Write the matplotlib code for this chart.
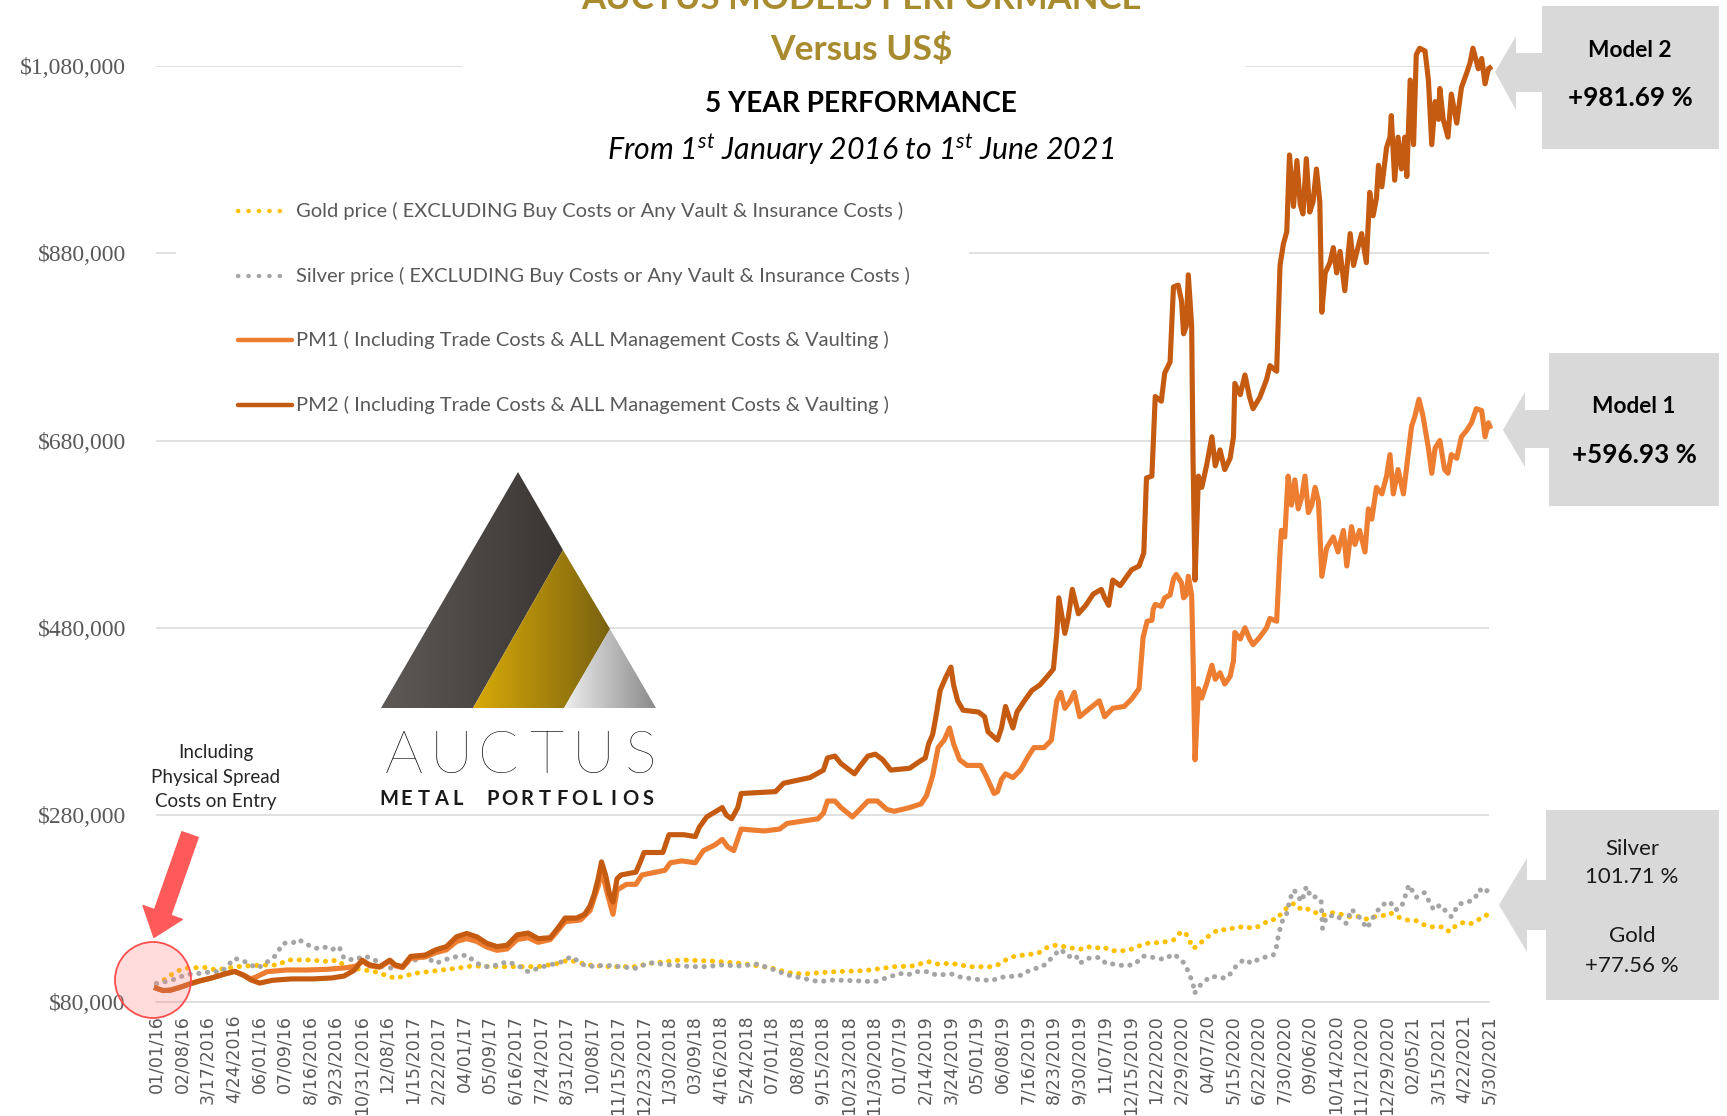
import matplotlib
matplotlib.use("Agg")
import matplotlib.pyplot as plt
import matplotlib.patches as mpatches
import matplotlib.transforms as mtransforms
from matplotlib.lines import Line2D
from matplotlib.colors import LinearSegmentedColormap
import numpy as np

W, H = 1727, 1116

# x = days since 1 Jan 2016, values in US$ thousands
tick_labels = ["01/01/16", "02/08/16", "3/17/2016", "4/24/2016", "06/01/16", "07/09/16",
               "8/16/2016", "9/23/2016", "10/31/2016", "12/08/16", "1/15/2017", "2/22/2017",
               "04/01/17", "05/09/17", "6/16/2017", "7/24/2017", "8/31/2017", "10/08/17",
               "11/15/2017", "12/23/2017", "1/30/2018", "03/09/18", "4/16/2018", "5/24/2018",
               "07/01/18", "08/08/18", "9/15/2018", "10/23/2018", "11/30/2018", "01/07/19",
               "2/14/2019", "3/24/2019", "05/01/19", "06/08/19", "7/16/2019", "8/23/2019",
               "9/30/2019", "11/07/19", "12/15/2019", "1/22/2020", "2/29/2020", "04/07/20",
               "5/15/2020", "6/22/2020", "7/30/2020", "09/06/20", "10/14/2020", "11/21/2020",
               "12/29/2020", "02/05/21", "3/15/2021", "4/22/2021", "5/30/2021"]
tick_step = 38
y_ticks = [80, 280, 480, 680, 880, 1080]

pm2_days = [0, 10, 21, 35, 51, 65, 82, 100, 116, 129, 140, 153, 172, 200, 233, 260, 278, 293, 305,
            316, 331, 346, 354, 365, 377, 399, 414, 430, 445, 460, 475, 490, 505, 520, 535, 551,
            566, 584, 595, 606, 623, 635, 643, 649, 655, 660, 666, 672, 677, 683, 689, 711, 717,
            723, 751, 760, 782, 799, 805, 816, 839, 845, 853, 862, 867, 918, 930, 969, 989, 995,
            1006, 1015, 1035, 1043, 1055, 1066, 1077, 1089, 1117, 1131, 1140, 1145, 1151, 1157,
            1162, 1171, 1178, 1182, 1188, 1196, 1219, 1228, 1233, 1247, 1253, 1259, 1264, 1270,
            1276, 1287, 1298, 1310, 1321, 1330, 1335, 1338, 1347, 1352, 1358, 1367, 1378, 1389,
            1401, 1406, 1412, 1418, 1429, 1446, 1457, 1464, 1468, 1476, 1478, 1481, 1490, 1495,
            1503, 1508, 1515, 1520, 1523, 1527, 1530, 1535, 1537, 1540, 1545, 1550, 1557, 1565,
            1570, 1577, 1584, 1592, 1597, 1599, 1607, 1614, 1621, 1626, 1636, 1646, 1651, 1661,
            1666, 1671, 1676, 1680, 1686, 1691, 1696, 1700, 1705, 1710, 1715, 1720, 1725, 1728,
            1733, 1740, 1745, 1750, 1755, 1762, 1770, 1775, 1780, 1787, 1794, 1799, 1804, 1809,
            1812, 1817, 1824, 1829, 1831, 1836, 1841, 1846, 1851, 1854, 1859, 1864, 1868, 1873,
            1881, 1886, 1891, 1896, 1901, 1903, 1908, 1915, 1920, 1928, 1935, 1943, 1948, 1952,
            1960, 1965, 1970, 1975, 1977]
pm2_vals = [95, 92.5, 93, 96, 100, 103, 106, 110, 113, 109, 104, 100.5, 103.5, 105, 105, 106, 108,
            114, 125, 120, 118, 125, 120, 118, 129, 130.5, 136, 139.5, 150, 153.5, 150, 143,
            139.5, 141, 152, 154, 148, 149, 159, 170, 170, 174, 183, 195, 212, 230, 216, 195, 187,
            212, 216, 219, 229, 240, 240, 259, 259, 257, 267, 278, 288, 280, 276, 288, 303, 305,
            314, 320, 328, 341, 343, 335, 324, 332, 343, 345, 339, 328, 330, 337, 341, 356, 366,
            390, 413, 428, 438, 419, 402, 392, 390, 385, 369, 360, 373, 396, 385, 373, 390, 402,
            413, 419, 428, 436, 474, 512, 474, 491, 521, 495, 504, 516, 521, 512, 504, 531, 525,
            542, 546, 560, 640, 642, 676, 727, 722, 752, 764, 844, 846, 829, 794, 802, 857, 802,
            661, 531, 642, 630, 653, 684, 653, 670, 649, 661, 684, 741, 729, 750, 726, 714, 726,
            745, 760, 754, 867, 890, 903, 985, 930, 979, 932, 922, 981, 924, 935, 970, 935, 817,
            859, 870, 886, 859, 882, 840, 901, 867, 882, 901, 870, 945, 920, 939, 974, 951, 993,
            1004, 1027, 958, 1004, 970, 1004, 962, 1065, 996, 1092, 1099, 1096, 1065, 996, 1042,
            1023, 1056, 1023, 1004, 1050, 1019, 1057, 1073, 1084, 1099, 1077, 1088, 1061, 1077,
            1078]

pm1_days = [0, 10, 21, 35, 51, 65, 82, 100, 116, 129, 140, 149, 164, 193, 223, 252, 272, 287, 297,
            305, 316, 331, 346, 354, 365, 377, 399, 414, 430, 445, 460, 475, 490, 505, 520, 535,
            551, 566, 584, 606, 629, 643, 655, 660, 669, 677, 683, 697, 711, 720, 740, 754, 762,
            779, 799, 811, 828, 839, 847, 856, 867, 901, 924, 935, 981, 989, 995, 1006, 1015,
            1032, 1043, 1055, 1069, 1083, 1094, 1117, 1134, 1142, 1151, 1159, 1168, 1176, 1182,
            1191, 1202, 1222, 1230, 1242, 1247, 1253, 1259, 1270, 1281, 1293, 1301, 1316, 1327,
            1335, 1341, 1347, 1355, 1361, 1369, 1384, 1398, 1406, 1418, 1435, 1446, 1457, 1463,
            1469, 1476, 1478, 1481, 1490, 1495, 1503, 1508, 1512, 1520, 1523, 1527, 1530, 1535,
            1537, 1540, 1545, 1550, 1557, 1565, 1570, 1577, 1584, 1592, 1597, 1599, 1607, 1614,
            1621, 1626, 1636, 1646, 1651, 1661, 1666, 1668, 1673, 1678, 1683, 1688, 1693, 1698,
            1703, 1708, 1713, 1718, 1723, 1728, 1735, 1745, 1752, 1760, 1765, 1772, 1777, 1784,
            1792, 1797, 1802, 1809, 1817, 1824, 1829, 1834, 1841, 1849, 1854, 1861, 1866, 1872,
            1878, 1886, 1891, 1896, 1903, 1910, 1915, 1920, 1928, 1935, 1943, 1950, 1957, 1965,
            1970, 1975, 1977]
pm1_vals = [95, 92.5, 93, 96, 100, 103, 106, 110, 113, 109, 105, 107.4, 112.7, 114.5, 114.5, 115.2,
            116.3, 117.4, 119, 124, 119, 117.5, 124, 119, 117, 127, 128.5, 133, 136, 145, 148,
            145, 139, 135.5, 137, 147, 149, 144, 147, 166, 168, 178, 204, 221, 195, 174, 200, 206,
            206, 216, 219, 221, 229, 231, 229, 242, 248, 254, 246, 242, 265, 263, 265, 271, 276,
            282, 295, 295, 288, 278, 286, 295, 295, 286, 284, 288, 292, 301, 322, 352, 360, 373,
            356, 339, 333, 333, 322, 303, 305, 318, 324, 320, 328, 343, 352, 352, 360, 402, 411,
            394, 402, 411, 385, 394, 402, 385, 394, 396, 404, 415, 470, 487, 488, 500, 505, 503,
            512, 515, 532, 537, 528, 512, 515, 535, 515, 450, 339, 415, 405, 420, 440, 425, 432,
            420, 428, 445, 475, 468, 480, 468, 462, 470, 480, 490, 487, 561, 584, 577, 642, 611,
            638, 607, 619, 642, 603, 611, 630, 615, 535, 565, 577, 561, 584, 546, 588, 569, 584,
            561, 607, 596, 630, 623, 642, 665, 623, 649, 623, 653, 695, 706, 724, 706, 672, 645,
            672, 680, 649, 645, 665, 661, 684, 691, 699, 714, 712, 684, 699, 695]

gold_days = [0, 14, 25, 40, 70, 89, 119, 157, 180, 195, 229, 256, 267, 278, 293, 324, 354, 384,
             415, 445, 468, 505, 535, 566, 596, 611, 641, 672, 710, 732, 778, 823, 868, 914, 936,
             959, 1004, 1050, 1095, 1120, 1145, 1156, 1179, 1193, 1207, 1236, 1247, 1259, 1273,
             1290, 1307, 1321, 1335, 1346, 1369, 1381, 1392, 1403, 1415, 1440, 1454, 1468, 1483,
             1497, 1508, 1517, 1525, 1531, 1537, 1542, 1554, 1565, 1576, 1588, 1599, 1613, 1627,
             1639, 1650, 1661, 1670, 1678, 1687, 1695, 1704, 1712, 1724, 1732, 1744, 1755, 1769,
             1780, 1792, 1806, 1817, 1829, 1840, 1854, 1868, 1883, 1897, 1908, 1917, 1925, 1937,
             1948, 1959, 1971, 1977]
gold_vals = [100, 105, 111, 116.3, 117.4, 114.5, 118.1, 119.8, 119.8, 125.2, 125.2, 123.4, 125.2,
             119.8, 116.3, 112.7, 105.6, 111, 113.8, 116.3, 118.8, 118.1, 118.1, 118.1, 121.6,
             125.2, 119.8, 118.1, 118.1, 121.6, 125.2, 124.1, 121.6, 116.3, 111.7, 110.2, 112.7,
             113.8, 118.1, 118.7, 123.4, 120.9, 121.6, 119.8, 118, 118, 119.8, 125.1, 129.4, 130.8,
             132.3, 138.7, 141.2, 139.4, 136.5, 139.4, 137.6, 139.4, 135.1, 135.1, 139.4, 142.9,
             143.7, 144.7, 146.5, 153.6, 155.4, 147.2, 137.6, 139.4, 147.2, 153.6, 157.9, 157.2,
             160, 160.7, 159, 162.5, 167.9, 168.6, 176.8, 182.1, 185.7, 180.3, 181.4, 176.8, 175,
             173.2, 175.7, 174.3, 171.4, 172.1, 168.6, 171.4, 172.1, 175.7, 171.4, 167.9, 167.1,
             161.5, 160, 160.7, 155.4, 160.7, 165, 163.6, 167.9, 172.1, 177.6]

silver_days = [0, 21, 36, 51, 66, 82, 97, 116, 131, 150, 165, 176, 188, 203, 210, 225, 237, 248,
               259, 271, 278, 293, 309, 324, 335, 350, 369, 384, 399, 414, 430, 445, 460, 475, 490,
               505, 520, 535, 551, 566, 581, 596, 615, 634, 649, 664, 687, 710, 732, 762, 793, 815,
               838, 868, 891, 914, 936, 959, 982, 1004, 1035, 1065, 1088, 1102, 1114, 1125, 1145,
               1156, 1179, 1190, 1205, 1216, 1239, 1250, 1273, 1284, 1295, 1310, 1321, 1329, 1341,
               1352, 1363, 1369, 1381, 1398, 1409, 1420, 1437, 1451, 1463, 1477, 1494, 1508, 1517,
               1525, 1531, 1537, 1539, 1548, 1562, 1573, 1585, 1593, 1602, 1613, 1624, 1636, 1647,
               1656, 1661, 1664, 1670, 1676, 1681, 1687, 1693, 1698, 1705, 1712, 1721, 1727, 1729,
               1735, 1749, 1764, 1772, 1783, 1795, 1806, 1817, 1829, 1837, 1846, 1857, 1868, 1880,
               1894, 1903, 1920, 1931, 1942, 1954, 1962, 1968, 1977]
silver_vals = [100, 103.1, 107.4, 110.2, 111, 112.7, 112.7, 127, 123.4, 116.3, 123.4, 129.5, 143,
               143.7, 147.3, 141.2, 137.6, 139.4, 135.9, 139.4, 127, 125.2, 129.5, 125.2, 118.1,
               116.3, 121.6, 125.2, 128.8, 121.6, 125.9, 128.8, 130.5, 121.6, 118.1, 119.8, 123.4,
               119.8, 112.7, 116.3, 119.8, 121.6, 128.8, 119.8, 118.1, 119.8, 118.1, 116.3, 122.3,
               119.8, 118.1, 118.1, 119.8, 118.8, 120.9, 115.2, 109.2, 105.6, 102, 103.8, 103.1,
               102, 107.4, 110.9, 109.1, 112.7, 112.7, 109.1, 110.2, 107.3, 105.6, 104.5, 103.1,
               106.6, 108, 109.1, 114.5, 117.3, 121.6, 129.4, 136.5, 128.7, 130.5, 121.6, 126.9,
               128, 120.9, 120.9, 118.7, 120.9, 129.4, 128, 125.8, 131.5, 126.9, 120.9, 110.9,
               100.2, 89.5, 98.4, 107.3, 107.3, 105.6, 110.9, 119.8, 125.8, 121.6, 126.9, 128.7,
               130.5, 140.1, 153.6, 167.9, 175, 191, 199.9, 192.8, 187.5, 203.5, 192.1, 192.8,
               187.5, 159, 171.4, 173.2, 164.3, 179.3, 171.4, 159, 173.2, 183.9, 187.5, 178.6,
               181.4, 205.3, 192.1, 197.1, 178.6, 183.9, 171.4, 185, 186.4, 190, 200.6, 196.4,
               201.7]

legend_labels = ["Gold price ( EXCLUDING Buy Costs or Any Vault & Insurance Costs )",
                 "Silver price ( EXCLUDING Buy Costs or Any Vault & Insurance Costs )",
                 "PM1 ( Including Trade Costs & ALL Management Costs & Vaulting )",
                 "PM2 ( Including Trade Costs & ALL Management Costs & Vaulting )"]

GOLD = "#FFC000"
SILVER = "#A5A5A5"
PM1 = "#ED7D31"
PM2 = "#C55A11"
TITLE = "#A88B2E"
BOX = "#D9D9D9"

plt.rcParams["font.family"] = ["Lato", "DejaVu Sans"]
plt.rcParams["mathtext.fontset"] = "custom"
plt.rcParams["mathtext.rm"] = "Lato:italic"
plt.rcParams["mathtext.it"] = "Lato:italic"

fig = plt.figure(figsize=(W / 100, H / 100), dpi=100)
# pixel coordinates with the origin at the top left
PX = mtransforms.Affine2D().scale(1, -1).translate(0, H)

ax = fig.add_axes([156.4 / W, 1 - 1002.3 / H, (1489.1 - 156.4) / W, (1002.3 - 66) / H])
ax.set_xlim(0, 1976)
ax.set_ylim(80, 1080)
ax.set_yticks(y_ticks)
ax.set_yticklabels([f"${v * 1000:,.0f}" for v in y_ticks], fontfamily="Liberation Serif",
                   fontsize=17, color="#595959")
ax.set_xticks(np.arange(len(tick_labels)) * tick_step)
ax.set_xticklabels(tick_labels, rotation=90, fontsize=12.5, color="#595959", fontfamily="DejaVu Sans")
ax.tick_params(axis="y", length=0, pad=22)
ax.tick_params(axis="x", length=0, pad=9)
ax.grid(axis="y", color=BOX, lw=1.1)
ax.set_axisbelow(True)
for s in ["top", "right", "left"]:
    ax.spines[s].set_visible(False)
ax.spines["bottom"].set_color(BOX)
ax.spines["bottom"].set_linewidth(1.1)

# white areas behind the title and legend hide the grid there
for x0, y0, w, h in [(463, 0, 782, 182), (176, 182, 793, 246)]:
    ax.add_patch(mpatches.Rectangle((x0, y0), w, h, transform=PX, fc="white", ec="none",
                                    zorder=1, clip_on=False))

dots = dict(lw=3.6, linestyle=(0, (0.05, 1.7)), dash_capstyle="round", clip_on=False, zorder=3)
ax.plot(gold_days, gold_vals, color=GOLD, **dots)
ax.plot(silver_days, silver_vals, color=SILVER, **dots)
ax.plot(pm1_days, pm1_vals, color=PM1, lw=3.7, clip_on=False, zorder=4, solid_joinstyle="round")
ax.plot(pm2_days, pm2_vals, color=PM2, lw=3.7, clip_on=False, zorder=5, solid_joinstyle="round")

# legend
leg_y = [211, 276, 340, 405]
leg_style = [(GOLD, True), (SILVER, True), (PM1, False), (PM2, False)]
for label, (color, dotted), y in zip(legend_labels, leg_style, leg_y):
    if dotted:
        fig.add_artist(Line2D([238, 283], [y, y], transform=PX, color=color, lw=3.2,
                              linestyle=(0, (0.05, 2.3)), dash_capstyle="round"))
    else:
        fig.add_artist(Line2D([238, 292], [y, y], transform=PX, color=color, lw=3.2,
                              solid_capstyle="round"))
    fig.text(296, y, label, transform=PX, va="center", ha="left", fontsize=14.5, color="#595959")

# titles
fig.text(861, 9, "AUCTUS MODELS PERFORMANCE", transform=PX, ha="center", va="baseline",
         fontsize=25, fontweight="bold", color=TITLE)
fig.text(861, 60, "Versus US$", transform=PX, ha="center", va="baseline",
         fontsize=25.5, fontweight="bold", color=TITLE)
fig.text(861, 112, "5 YEAR PERFORMANCE", transform=PX, ha="center", va="baseline",
         fontsize=20.2, fontweight="bold", color="black")
fig.text(861, 160, r"From 1$^{st}$ January 2016 to 1$^{st}$ June 2021", transform=PX,
         ha="center", va="baseline", fontsize=21.8, fontstyle="italic", color="black")

# logo
lax = fig.add_axes([381 / W, 1 - 708 / H, (656 - 381) / W, (708 - 472) / H])
lax.set_xlim(381, 656)
lax.set_ylim(708, 472)
lax.axis("off")
stripes = [
    ([(381, 708), (518, 472), (563, 550), (473, 708)], ["#5d5a58", "#3a3532"]),
    ([(473, 708), (563, 550), (610, 629), (564, 708)], ["#d8aa08", "#7a6210"]),
    ([(564, 708), (610, 629), (656, 708)], ["#eeeeee", "#8a8a8a"]),
]
grad = np.linspace(0, 1, 256).reshape(1, -1)
for pts, cols in stripes:
    poly = mpatches.Polygon(pts, closed=True, fc="none", ec="none")
    lax.add_patch(poly)
    xs = [p[0] for p in pts]
    ys = [p[1] for p in pts]
    im = lax.imshow(grad, cmap=LinearSegmentedColormap.from_list("g", cols), aspect="auto",
                    extent=(min(xs), max(xs), max(ys), min(ys)))
    im.set_clip_path(poly)

for letter, x in zip("AUCTUS", np.linspace(404, 641, 6)):
    fig.text(x, 773, letter, transform=PX, ha="center", va="baseline", fontsize=43,
             fontweight="light", color="black")
for letter, x in zip("METAL PORTFOLIOS", np.linspace(389, 648, 16)):
    fig.text(x, 805, letter, transform=PX, ha="center", va="baseline", fontsize=14.5,
             fontweight="bold", color="#1a1a1a")

# entry cost note
for line, y in zip(["Including", "Physical Spread", "Costs on Entry"], [758, 783, 807]):
    fig.text(216, y, line, transform=PX, ha="center", va="baseline", fontsize=13.5, color="#262626")
fig.add_artist(mpatches.FancyArrowPatch((191, 832), (153, 940), transform=PX,
                                        arrowstyle="simple,head_length=0.95,head_width=1.5,tail_width=0.62",
                                        mutation_scale=20, color="#FF5A5A", zorder=6))
fig.add_artist(mpatches.Circle((153, 980), 38, transform=PX, fc=(1, 0.55, 0.55, 0.3),
                               ec="#FF4D4D", lw=1.3, zorder=6))

# call-out boxes on the right
def callout(tip_x, tip_y, head_x, head_top, head_bot, shaft_top, shaft_bot, bx0, bx1, by0, by1):
    pts = [(tip_x, tip_y), (head_x, head_top), (head_x, shaft_top), (bx0, shaft_top), (bx0, by0),
           (bx1, by0), (bx1, by1), (bx0, by1), (bx0, shaft_bot), (head_x, shaft_bot),
           (head_x, head_bot)]
    fig.add_artist(mpatches.Polygon(pts, closed=True, transform=PX, fc=BOX, ec="none", zorder=2))

callout(1495, 72, 1516, 36, 110, 53, 92, 1542, 1719, 6, 149)
callout(1503, 430, 1525, 392, 467, 410, 448, 1549, 1719, 353, 506)
callout(1499, 905, 1527, 858, 952, 880, 930, 1546, 1719, 810, 1000)

fig.text(1630, 57, "Model 2", transform=PX, ha="center", va="baseline", fontsize=16.3, fontweight="bold")
fig.text(1630, 106, "+981.69 %", transform=PX, ha="center", va="baseline", fontsize=18.7, fontweight="bold")
fig.text(1634, 413, "Model 1", transform=PX, ha="center", va="baseline", fontsize=16.3, fontweight="bold")
fig.text(1634, 463, "+596.93 %", transform=PX, ha="center", va="baseline", fontsize=18.7, fontweight="bold")
for s, y in zip(["Silver", "101.71 %", "Gold", "+77.56 %"], [855, 883, 942, 972]):
    fig.text(1632, y, s, transform=PX, ha="center", va="baseline", fontsize=16, color="#1a1a1a")

fig.savefig("out.png", dpi=100)
